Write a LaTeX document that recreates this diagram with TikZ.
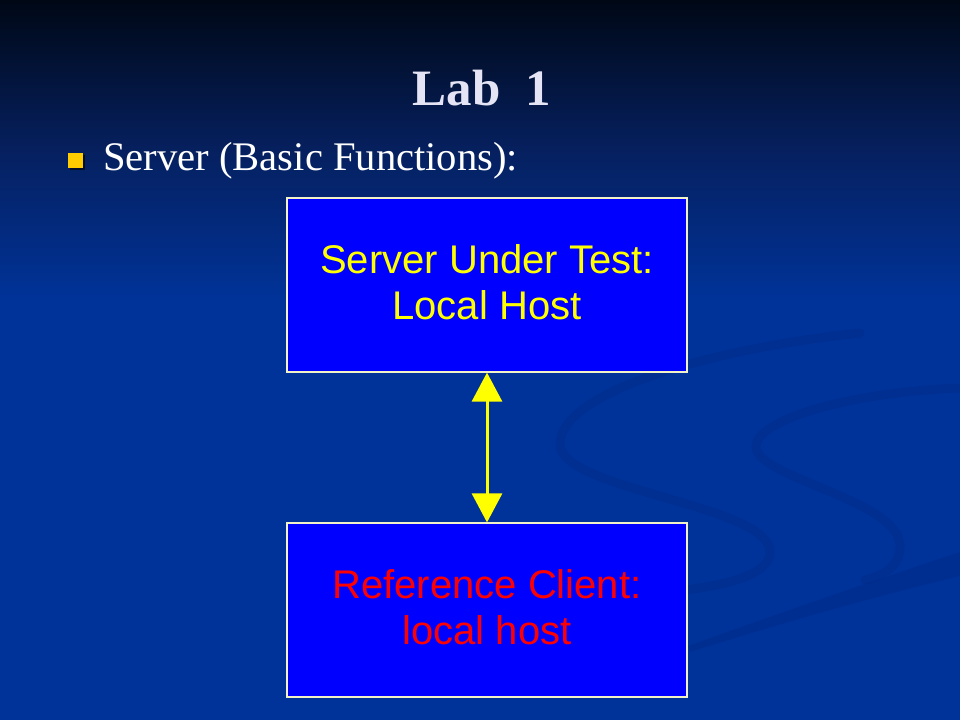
\documentclass[tikz,border=0pt]{standalone}
\usepackage{fontspec}
\setmainfont{Liberation Serif}
\newfontfamily\boxfont{Liberation Sans}
\usetikzlibrary{arrows.meta}
\definecolor{bgbot}{HTML}{003399}
\definecolor{bgmid}{HTML}{06205F}
\definecolor{bgtop}{HTML}{000816}
\definecolor{swirl}{HTML}{002A88}
\definecolor{boxblue}{HTML}{0000FF}
\definecolor{boxedge}{HTML}{F2F2C8}
\definecolor{titlecol}{HTML}{E4E4F4}
\definecolor{bulletcol}{HTML}{FFCC00}
\definecolor{arrowcol}{HTML}{FFFF00}
\definecolor{clientred}{HTML}{FF0000}
\tikzset{
  slidebox/.style={draw=boxedge, line width=1.2pt, fill=boxblue, minimum width=400pt, minimum height=174pt, inner sep=0pt},
  boxtext/.style={font=\boxfont\fontsize{40}{46}\selectfont, align=center, inner sep=0pt},
  titletext/.style={font=\bfseries\fontsize{51}{60}\selectfont, inner sep=0pt, anchor=base},
  bodytext/.style={font=\fontsize{40.6}{48}\selectfont, inner sep=0pt, anchor=base west},
  link/.style={arrowcol, line width=3pt, {Triangle[width=30pt,length=29pt]}-{Triangle[width=30pt,length=29pt]}},
  swirlline/.style={draw=swirl, line width=9pt, line cap=round, opacity=0.45}
}
\begin{document}
\begin{tikzpicture}[x=1pt,y=-1pt]
\useasboundingbox (0,0) rectangle (960,720);
% background
\shade[top color=bgtop, bottom color=bgmid] (0,0) rectangle (960,150.5);
\shade[top color=bgmid, bottom color=bgbot] (0,150) rectangle (960,300.5);
\fill[bgbot] (0,300) rectangle (960,720);
% decorative swirls
\draw[swirlline] (860,333) .. controls (700,350) and (558,395) .. (560,445)
  .. controls (562,490) and (770,505) .. (770,552) .. controls (770,575) and (725,585) .. (685,590);
\draw[swirlline] (960,388) .. controls (850,392) and (755,420) .. (756,447)
  .. controls (757,478) and (900,500) .. (900,546) .. controls (900,566) and (885,575) .. (865,580);
\fill[swirl, opacity=0.5] (960,552) -- (960,576) .. controls (860,600) and (760,630) .. (690,652) -- (688,646) .. controls (760,620) and (860,585) .. (960,552) -- cycle;
% title
\node[titletext, titlecol] (title) at (482,105) {Lab\ \ 1};
% bullet
\fill[black, opacity=0.6] (70,155) rectangle (85,170);
\node[fill=bulletcol, minimum size=15pt, inner sep=0pt] (bullet) at (75.5,160.5) {};
\node[bodytext, white] (body) at (103,170) {Server (Basic Functions):};
% boxes
\node[slidebox] (sut) at (487,285) {};
\node[boxtext, arrowcol] (sutlbl) at (487,282) {Server Under Test:\\Local Host};
\node[slidebox] (rc) at (487,610) {};
\node[boxtext, clientred] (rclbl) at (487,607) {Reference Client:\\local host};
% connector
\draw[link] (sut.south) -- (rc.north);
\end{tikzpicture}
\end{document}
